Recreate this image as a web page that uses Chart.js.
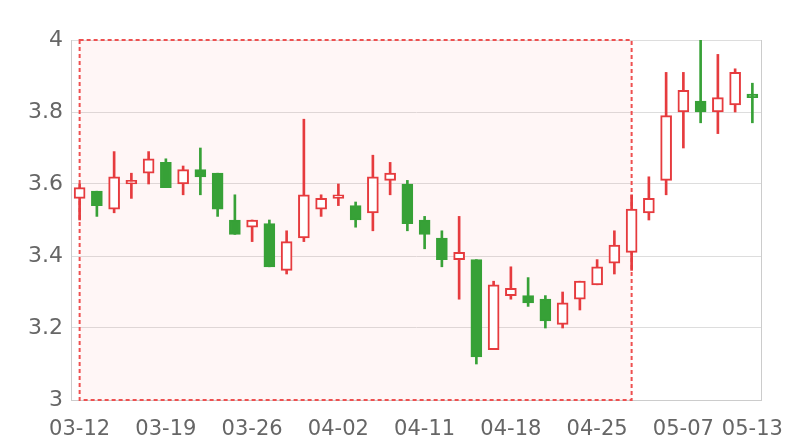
<!DOCTYPE html>
<html>
<head>
<meta charset="utf-8">
<script src="https://cdn.jsdelivr.net/npm/chart.js@4"></script>
<style>
  html, body { margin: 0; padding: 0; background: #fff; }
  #wrap { width: 800px; height: 440px; }
</style>
</head>
<body>
<div id="wrap"><canvas id="grafico" width="800" height="440"></canvas></div>
<script>
const datas = ["03-12", "03-13", "03-14", "03-15", "03-18", "03-19", "03-20", "03-21", "03-22", "03-25",
  "03-26", "03-27", "03-28", "03-29", "04-01", "04-02", "04-03", "04-08", "04-09", "04-10",
  "04-11", "04-12", "04-15", "04-16", "04-17", "04-18", "04-19", "04-22", "04-23", "04-24",
  "04-25", "04-26", "04-29", "04-30", "05-06", "05-07", "05-08", "05-09", "05-10", "05-13"];
const abertura = [3.56, 3.58, 3.53, 3.60, 3.63, 3.66, 3.60, 3.64, 3.63, 3.50,
  3.48, 3.49, 3.36, 3.45, 3.53, 3.56, 3.54, 3.52, 3.61, 3.60,
  3.50, 3.45, 3.39, 3.39, 3.14, 3.29, 3.29, 3.28, 3.21, 3.28,
  3.32, 3.38, 3.41, 3.52, 3.61, 3.80, 3.83, 3.80, 3.82, 3.85];
const fechamento = [3.59, 3.54, 3.62, 3.61, 3.67, 3.59, 3.64, 3.62, 3.53, 3.46,
  3.50, 3.37, 3.44, 3.57, 3.56, 3.57, 3.50, 3.62, 3.63, 3.49,
  3.46, 3.39, 3.41, 3.12, 3.32, 3.31, 3.27, 3.22, 3.27, 3.33,
  3.37, 3.43, 3.53, 3.56, 3.79, 3.86, 3.80, 3.84, 3.91, 3.84];
const minima = [3.50, 3.51, 3.52, 3.56, 3.60, 3.59, 3.57, 3.57, 3.51, 3.46,
  3.44, 3.37, 3.35, 3.44, 3.51, 3.54, 3.48, 3.47, 3.57, 3.47,
  3.42, 3.37, 3.28, 3.10, 3.14, 3.28, 3.26, 3.20, 3.20, 3.25,
  3.32, 3.35, 3.36, 3.50, 3.57, 3.70, 3.77, 3.74, 3.80, 3.77];
const maxima = [3.60, 3.58, 3.69, 3.63, 3.69, 3.67, 3.65, 3.70, 3.63, 3.57,
  3.50, 3.50, 3.47, 3.78, 3.57, 3.60, 3.55, 3.68, 3.66, 3.61,
  3.51, 3.47, 3.51, 3.39, 3.33, 3.37, 3.34, 3.29, 3.30, 3.33,
  3.39, 3.47, 3.57, 3.62, 3.91, 3.91, 4.00, 3.96, 3.92, 3.88];
const marcaInicio = "03-12";
const marcaFim = "04-29";

const vermelho = "#e63b3e";
const verde = "#37a137";

const sobe = abertura.map((o, i) => fechamento[i] >= o);

// área marcada + borda direita
const areaMarcada = {
  id: "areaMarcada",
  beforeDatasetsDraw(chart) {
    const { ctx, chartArea, scales } = chart;
    const x1 = scales.x.getPixelForValue(datas.indexOf(marcaInicio));
    const x2 = scales.x.getPixelForValue(datas.indexOf(marcaFim));
    const y1 = scales.y.getPixelForValue(4);
    const y2 = scales.y.getPixelForValue(3);
    ctx.save();
    ctx.fillStyle = "rgba(255,120,120,0.065)";
    ctx.fillRect(x1, y1, x2 - x1, y2 - y1);
    ctx.strokeStyle = "#ee5050";
    ctx.lineWidth = 2;
    ctx.setLineDash([4, 3]);
    ctx.strokeRect(x1, y1, x2 - x1, y2 - y1);
    ctx.setLineDash([]);
    ctx.strokeStyle = "#cccccc";
    ctx.lineWidth = 1;
    ctx.beginPath();
    ctx.moveTo(chartArea.right + 0.5, chartArea.top);
    ctx.lineTo(chartArea.right + 0.5, chartArea.bottom);
    ctx.stroke();
    ctx.restore();
  },
};

new Chart(document.getElementById("grafico"), {
  type: "bar",
  data: {
    labels: datas,
    datasets: [
      {
        label: "corpo",
        data: abertura.map((o, i) => [o, fechamento[i]]),
        backgroundColor: sobe.map((s) => (s ? "#ffffff" : verde)),
        borderColor: sobe.map((s) => (s ? vermelho : verde)),
        borderWidth: 2,
        borderSkipped: false,
        barThickness: 11,
        grouped: false,
        order: 0,
      },
      {
        label: "pavio",
        data: minima.map((l, i) => [l, maxima[i]]),
        backgroundColor: sobe.map((s) => (s ? vermelho : verde)),
        borderWidth: 0,
        barThickness: 2,
        grouped: false,
        order: 1,
      },
    ],
  },
  options: {
    responsive: false,
    animation: false,
    layout: { padding: { top: 40, right: 39, bottom: 0, left: 0 } },
    plugins: { legend: { display: false }, tooltip: { enabled: false } },
    scales: {
      x: {
        offset: true,
        grid: { display: false },
        border: { color: "#cccccc" },
        ticks: {
          autoSkip: false,
          maxRotation: 0,
          color: "#666666",
          font: { family: "DejaVu Sans", size: 21 },
          padding: 9,
          callback: (v, i) => (i % 5 === 0 || i === datas.length - 1 ? datas[i] : ""),
        },
        afterFit: (s) => { s.height = 40; },
      },
      y: {
        min: 3,
        max: 4,
        ticks: {
          stepSize: 0.2,
          color: "#666666",
          font: { family: "DejaVu Sans", size: 22 },
          padding: 8,
          callback: (v) => String(Number(v.toFixed(1))),
        },
        grid: { color: "#dddddd", drawTicks: false },
        border: { color: "#cccccc" },
        afterFit: (s) => { s.width = 71; },
      },
    },
  },
  plugins: [areaMarcada],
});
</script>
</body>
</html>
